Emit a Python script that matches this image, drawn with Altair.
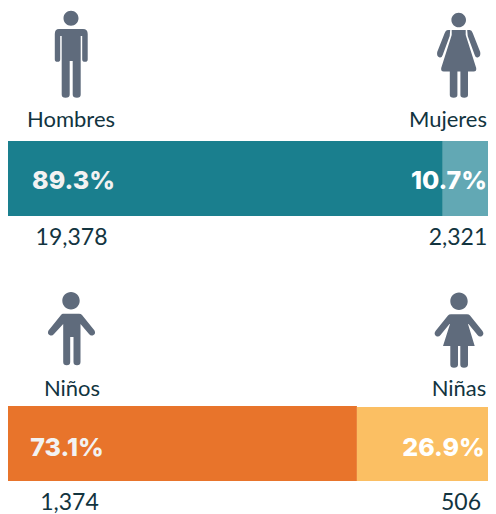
import altair as alt
import pandas as pd

# --- chart values ---
labels = ["Hombres", "Mujeres", "Niños", "Niñas"]
counts = ["19,378", "2,321", "1,374", "506"]
percents = ["89.3%", "10.7%", "73.1%", "26.9%"]
bar_shares = [89.1, 10.9, 71.5, 28.5]

# --- style ---
TEAL, TEAL_L, ORANGE, AMBER = "#1a7f8e", "#62a8b4", "#e8742b", "#fbbf63"
ICON = "#5f6b7c"
INK = "#12343f"
LABEL_FONT = "Lato"
PCT_FONT = "Inter"

MAN = ("M-7.5 -36.7 A7.5 7.5 0 1 1 7.5 -36.7 A7.5 7.5 0 1 1 -7.5 -36.7 Z "
       "M-12 -26 L12 -26 Q16.7 -26 16.7 -21 L16.7 4.5 Q16.7 6.8 14 6.8 Q11.2 6.8 11.2 4.5 "
       "L11.2 -19 L9.7 -19 L9.7 39.5 Q9.7 42.7 6 42.7 Q1.7 42.7 1.7 39.5 L1.7 6 L-1.3 6 "
       "L-1.3 39.5 Q-1.3 42.7 -5.5 42.7 Q-9.3 42.7 -9.3 39.5 L-9.3 -19 L-10.8 -19 L-10.8 4.5 "
       "Q-10.8 6.8 -13.5 6.8 Q-16.2 6.8 -16.2 4.5 L-16.2 -21 Q-16.2 -26 -12 -26 Z")
WOMAN = ("M-7.3 -35 A7.3 7.3 0 1 1 7.3 -35 A7.3 7.3 0 1 1 -7.3 -35 Z "
         "M-7 -25 L7 -25 L7 -20 L17.5 13 Q18 16.5 15 16.5 L9.3 16.5 L9.3 40 Q9.3 42.7 5.5 42.7 "
         "Q1.7 42.7 1.7 40 L1.7 16.5 L-1.3 16.5 L-1.3 40 Q-1.3 42.7 -5 42.7 Q-8.9 42.7 -8.9 40 "
         "L-8.9 16.5 L-15 16.5 Q-18 16.5 -17.5 13 L-7 -20 Z "
         "M8.5 -25 L11 -25 Q13 -25 14 -22 L21.5 -3 Q22.3 1.5 19 2.5 Q17 3 16 0 L9 -19 Z "
         "M-8.5 -25 L-11 -25 Q-13 -25 -14 -22 L-21.5 -3 Q-22.3 1.5 -19 2.5 Q-17 3 -16 0 L-9 -19 Z")
BOY = ("M-8.7 -34.3 A8.7 8.7 0 1 1 8.7 -34.3 A8.7 8.7 0 1 1 -8.7 -34.3 Z "
       "M-8 -21.3 L8 -21.3 Q10 -21.3 11 -20 L23.5 -4.5 Q25 -1.5 22.5 0 Q20 1.5 18 -1 L9.5 -11 "
       "L9.5 27 Q9.5 30.3 6 30.3 Q2.5 30.3 2.5 27 L2.5 2 L-0.8 2 L-0.8 27 Q-0.8 30.3 -4.3 30.3 "
       "Q-7.8 30.3 -7.8 27 L-7.8 -11 L-17 -1 Q-19 1.5 -21.5 0 Q-24 -1.5 -22.5 -4.5 L-10 -20 "
       "Q-9 -21.3 -8 -21.3 Z")
GIRL = ("M-8.7 -33.7 A8.7 8.7 0 1 1 8.7 -33.7 A8.7 8.7 0 1 1 -8.7 -33.7 Z "
        "M-8 -20.7 L8 -20.7 Q10 -20.7 11 -19.5 L23.5 -4 Q25.5 -1 23 1 Q20.5 2.5 18.5 0 L9.5 -11 "
        "L9 -11 L15.7 11 L9 11 L9 29.5 Q9 32.7 5 32.7 Q1.3 32.7 1.3 29.5 L1.3 11 L-1 11 "
        "L-1 29.5 Q-1 32.7 -5 32.7 Q-8.7 32.7 -8.7 29.5 L-8.7 11 L-16 11 L-9 -11 L-9.5 -11 "
        "L-18.5 0 Q-20.5 2.5 -23 1 Q-25.5 -1 -23.5 -4 L-11 -19.5 Q-10 -20.7 -8 -20.7 Z")

P = 8  # page margin: pixel positions below are in page coordinates


def segment(start, end, color, top, bottom):
    df = pd.DataFrame({"start": [start], "end": [end]})
    return alt.Chart(df).mark_rect(color=color).encode(
        x=alt.X("start:Q", axis=None,
                scale=alt.Scale(domain=[0, 100], range=[0, 488], nice=False, zero=False)),
        x2="end:Q",
        y=alt.value(top - P),
        y2=alt.value(bottom - P),
    )


def text(value, x, y, align="center", font=LABEL_FONT, size=22, color=INK, weight="normal"):
    df = pd.DataFrame({"t": [value]})
    return alt.Chart(df).mark_text(
        align=align, baseline="alphabetic", font=font, fontSize=size, color=color, fontWeight=weight
    ).encode(text="t:N", x=alt.value(x - P), y=alt.value(y - P))


def icon(path, x, y):
    df = pd.DataFrame({"i": [0]})
    return alt.Chart(df).mark_point(
        shape=path, size=4, filled=True, color=ICON, opacity=1, strokeWidth=0
    ).encode(x=alt.value(x - P), y=alt.value(y - P))


layers = [
    segment(0, bar_shares[0], TEAL, 141, 216),
    segment(bar_shares[0], 100, TEAL_L, 141, 216),
    segment(0, bar_shares[2], ORANGE, 406, 481),
    segment(bar_shares[2], 100, AMBER, 407, 481),
    icon(MAN, 71, 55),
    icon(WOMAN, 458.7, 55),
    icon(BOY, 71, 335),
    icon(GIRL, 459, 335),
    text(labels[0], 71, 127),
    text(labels[1], 487, 127, align="right"),
    text(labels[2], 72, 396),
    text(labels[3], 459, 396),
    text(counts[0], 71.5, 245, size=23),
    text(counts[1], 458, 245, size=23),
    text(counts[2], 69.5, 510, size=23),
    text(counts[3], 461, 510, size=23),
    text(percents[0], 73.5, 189, font=PCT_FONT, size=25, color="#f2f2f2", weight=800),
    text(percents[1], 449, 189, font=PCT_FONT, size=25, color="#ffffff", weight=800),
    text(percents[2], 67, 456, font=PCT_FONT, size=25, color="#f2f2f2", weight=800),
    text(percents[3], 443.5, 456, font=PCT_FONT, size=25, color="#ffffff", weight=800),
]

chart = alt.layer(*layers).properties(
    width=480,
    height=506,
    padding=0,
    autosize=alt.AutoSizeParams(type="none"),
).configure_view(stroke=None)

chart.save("out.html", embed_options={"renderer": "svg", "actions": False})
